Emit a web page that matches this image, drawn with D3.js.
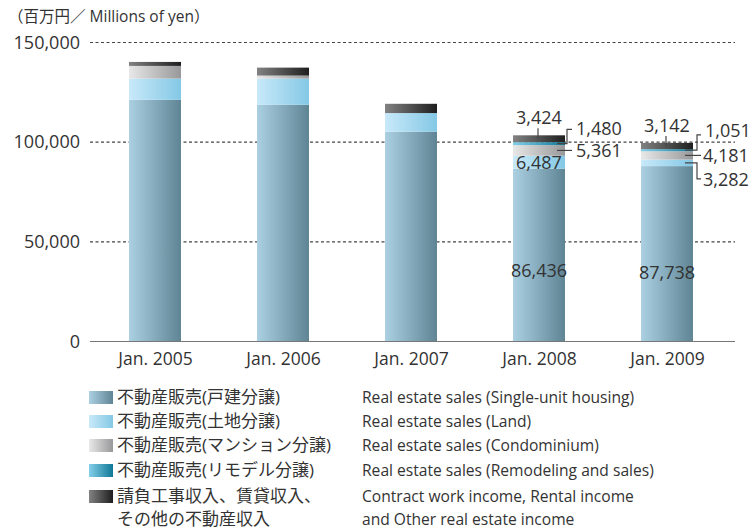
<!DOCTYPE html>
<html><head><meta charset="utf-8">
<script src="https://cdn.jsdelivr.net/npm/d3@7"></script>
<style>
body{margin:0;background:#fff;}
text{font-family:"Open Sans","Noto Sans CJK JP",sans-serif;fill:#333;}
</style></head>
<body><svg id="chart" width="751" height="529"></svg>
<script>
const categories = ["Jan. 2005","Jan. 2006","Jan. 2007","Jan. 2008","Jan. 2009"];
const singleUnit = [121000,118500,105000,86436,87738];
const land = [10650,13150,9350,6487,3282];
const condominium = [6350,1500,0,5361,4181];
const remodeling = [0,0,0,1480,1051];
const otherIncome = [2000,4000,4650,3424,3142];
const yTicks = [0,50000,100000,150000];
const seriesNamesJa = ["不動産販売(戸建分譲)","不動産販売(土地分譲)","不動産販売(マンション分譲)","不動産販売(リモデル分譲)","請負工事収入、賃貸収入、|その他の不動産収入"];
const seriesNamesEn = ["Real estate sales (Single-unit housing)","Real estate sales (Land)","Real estate sales (Condominium)","Real estate sales (Remodeling and sales)","Contract work income, Rental income|and Other real estate income"];
const gradStops = [["#abd0e2","#5f8595"],["#c8e9f9","#84c8e5"],["#e8e8e8","#98989a"],["#84cfea","#0f7896"],["#828282","#1e1e1e"]];
const keys = ["single","land","condo","remodel","other"];

const svg = d3.select("#chart");
const defs = svg.append("defs");
keys.forEach((k,i)=>{
  const g = defs.append("linearGradient").attr("id","g_"+k).attr("x1","0").attr("x2","1").attr("y1","0").attr("y2","0");
  g.append("stop").attr("offset","0").attr("stop-color",gradStops[i][0]);
  g.append("stop").attr("offset","1").attr("stop-color",gradStops[i][1]);
});

const data = categories.map((c,i)=>({cat:c,single:singleUnit[i],land:land[i],condo:condominium[i],remodel:remodeling[i],other:otherIncome[i]}));
const stack = d3.stack().keys(keys)(data);

const x = d3.scalePoint().domain(categories).range([91,731]).padding(0.5);
const y = d3.scaleLinear().domain([0,150000]).range([341,42]);
const barW = 52;

// gridlines
svg.append("g").selectAll("line").data(yTicks.filter(d=>d>0)).join("line")
  .attr("x1",90).attr("x2",735).attr("y1",d=>y(d)+0.5).attr("y2",d=>y(d)+0.5)
  .attr("stroke","#444").attr("stroke-width",1.2).attr("stroke-dasharray","3,2.5");

// bars
svg.append("g").selectAll("g").data(stack).join("g")
  .attr("fill",d=>"url(#g_"+d.key+")")
  .selectAll("rect").data(d=>d.filter(s=>s[1]-s[0]>0)).join("rect")
  .attr("x",d=>x(d.data.cat)-barW/2).attr("width",barW)
  .attr("y",d=>y(d[1])).attr("height",d=>y(d[0])-y(d[1]));

// axis line
svg.append("line").attr("x1",90).attr("x2",735).attr("y1",y(0)+0.5).attr("y2",y(0)+0.5).attr("stroke","#777").attr("stroke-width",1.2);

// y axis labels
const yAxis = d3.axisLeft(y).tickValues(yTicks).tickSize(0).tickPadding(0).tickFormat(d3.format(","));
const ya = svg.append("g").attr("transform","translate(80,0)").call(yAxis);
ya.select(".domain").remove();
ya.selectAll("text").attr("font-size","18px").attr("fill","#333").attr("font-family",null).attr("dy","0.35em");

// x axis labels
const xAxis = d3.axisBottom(x).tickSize(0).tickPadding(0);
const xa = svg.append("g").attr("transform","translate(0,349)").call(xAxis);
xa.select(".domain").remove();
xa.selectAll("text").attr("font-size","17.5px").attr("fill","#333").attr("font-family",null).attr("dy","0.9em");

// title
svg.append("text").attr("x",8).attr("y",22).attr("font-size","15.5px").text("（百万円／ Millions of yen）");

// value labels for 2008, 2009
const lab = svg.append("g").attr("font-size","18px");
const fmt = d3.format(",");
const line = (pts)=>svg.append("path").attr("d",d3.line()(pts)).attr("fill","none").attr("stroke","#444").attr("stroke-width",1.2);
[3,4].forEach(i=>{
  const cx = x(categories[i]);
  const right = cx+barW/2;
  const d = data[i];
  const seg = k=>stack[keys.indexOf(k)][i];
  // single
  lab.append("text").attr("x",cx).attr("y",y(0)-64+(i===4?2:0)).attr("text-anchor","middle").text(fmt(d.single));
  // other (top)
  const top = y(seg("other")[1]);
  lab.append("text").attr("x",cx).attr("y",top-11).attr("text-anchor","middle").text(fmt(d.other));
  line([[cx-1,top-7],[cx-1,top+3]]);
  const remY = (y(seg("remodel")[0])+y(seg("remodel")[1]))/2;
  const condoY = (y(seg("condo")[0])+y(seg("condo")[1]))/2;
  const landY = (y(seg("land")[0])+y(seg("land")[1]))/2;
  if(i===3){
    lab.append("text").attr("x",cx).attr("y",landY+7).attr("text-anchor","middle").text(fmt(d.land));
    line([[right-8,remY],[right+2,remY],[right+2,top-6],[right+7,top-6]]);
    lab.append("text").attr("x",right+11).attr("y",top).text(fmt(d.remodel));
    line([[right-8,condoY],[right+7,condoY]]);
    lab.append("text").attr("x",right+11).attr("y",condoY+7).text(fmt(d.condo));
  } else {
    line([[right-8,remY],[right+4,remY],[right+4,top-8],[right+8,top-8]]);
    lab.append("text").attr("x",right+12).attr("y",top-6).text(fmt(d.remodel));
    line([[right-8,condoY],[right+8,condoY]]);
    lab.append("text").attr("x",right+10).attr("y",condoY+7).text(fmt(d.condo));
    line([[right-8,landY],[right+4,landY],[right+4,landY+16],[right+8,landY+16]]);
    lab.append("text").attr("x",right+10).attr("y",landY+23).text(fmt(d.land));
  }
});

// legend
const lg = svg.append("g");
const rowY = [397,421,445,470,496];
keys.forEach((k,i)=>{
  lg.append("rect").attr("x",89).attr("y",rowY[i]-6).attr("width",24).attr("height",13).attr("fill","url(#g_"+k+")");
  seriesNamesJa[i].split("|").forEach((t,j)=>{
    lg.append("text").attr("x",117).attr("y",rowY[i]+6+j*23).attr("font-size","17px").text(t);
  });
  seriesNamesEn[i].split("|").forEach((t,j)=>{
    lg.append("text").attr("x",362).attr("y",rowY[i]+6+j*23).attr("font-size","15.6px").text(t);
  });
});
</script></body></html>
